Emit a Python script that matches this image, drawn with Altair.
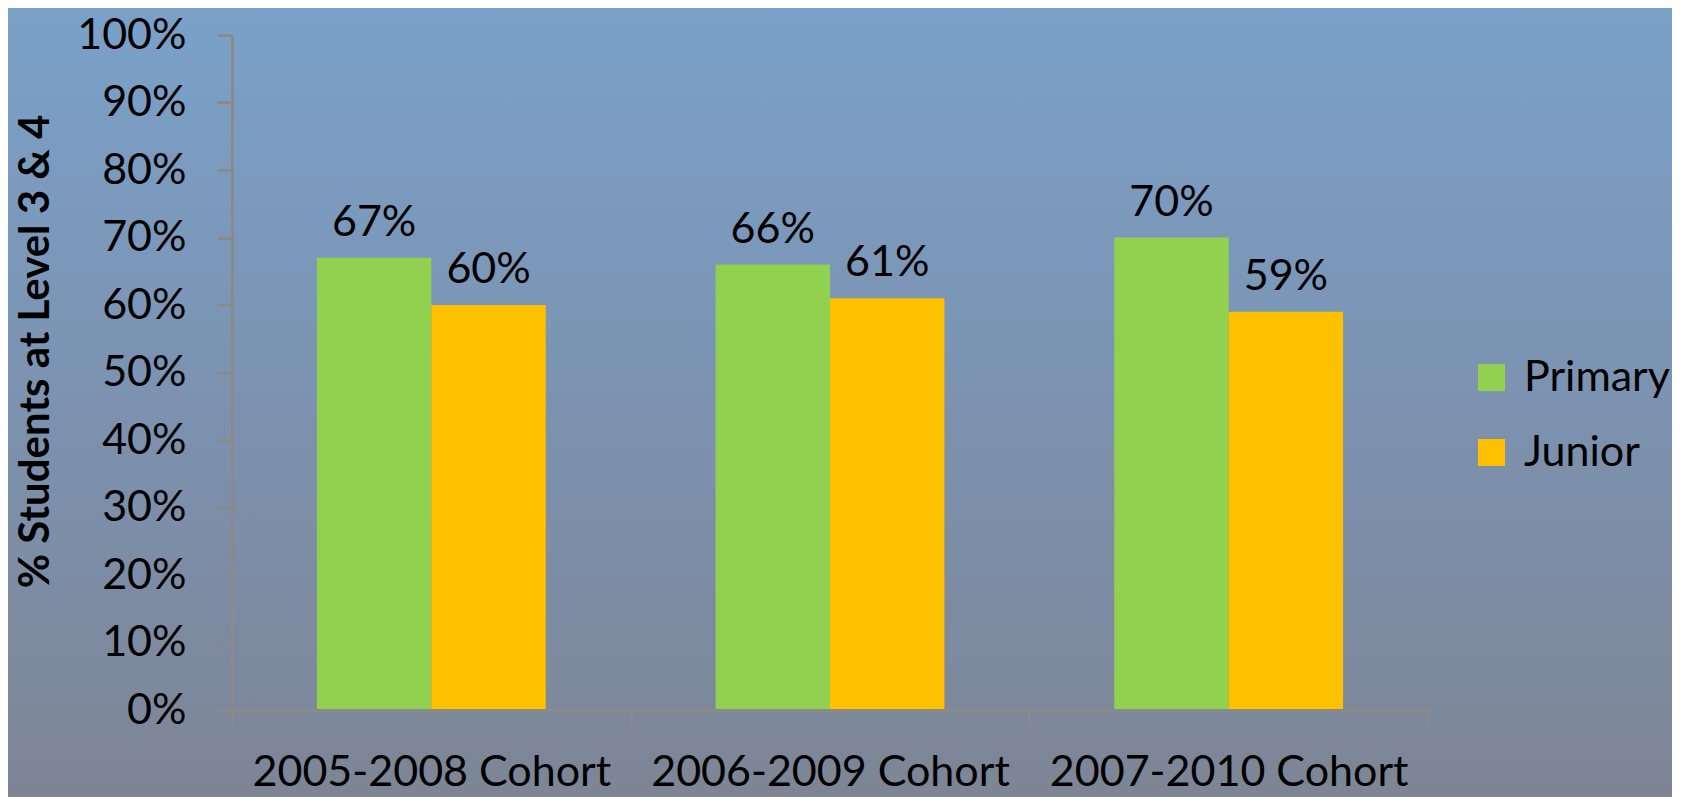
import altair as alt
import pandas as pd

cohorts = ["2005-2008 Cohort", "2006-2009 Cohort", "2007-2010 Cohort"]
series = ["Primary", "Junior"]
primary = [0.67, 0.66, 0.70]
junior = [0.60, 0.61, 0.59]
colors = ["#92d050", "#ffc000"]
y_ticks = [i / 10 for i in range(11)]

rows = []
for c, p, j in zip(cohorts, primary, junior):
    rows.append({"cohort": c, "series": "Primary", "value": p})
    rows.append({"cohort": c, "series": "Junior", "value": j})
df = pd.DataFrame(rows)

W, H = 1196, 675
PL, PT, PR, PB = 224, 27, 244, 87
FONT = "Lato"
FS = 43
AX = "#8a8a8a"

bg = alt.Chart(alt.Data(values=[{}])).mark_rect(
    color=alt.Gradient(
        gradient="linear",
        stops=[alt.GradientStop(color="#7aa1c9", offset=0),
               alt.GradientStop(color="#7c92b0", offset=0.5),
               alt.GradientStop(color="#7d8595", offset=1)],
        x1=0, x2=0, y1=0, y2=1,
    )
).encode(
    x=alt.value(-PL), x2=alt.value(W + PR),
    y=alt.value(-PT), y2=alt.value(H + PB),
)

x_enc = alt.X(
    "cohort:N", sort=cohorts, title=None,
    scale=alt.Scale(paddingInner=0, paddingOuter=0),
    axis=alt.Axis(
        labelAngle=0, tickBand="extent", labelFont=FONT, labelFontSize=FS,
        labelColor="black", labelPadding=25, labelLimit=0, tickSize=16,
        tickColor=AX, tickWidth=3, domainColor=AX, domainWidth=3, zindex=1,
    ),
)
xo_enc = alt.XOffset(
    "series:N", sort=series,
    scale=alt.Scale(paddingInner=0, paddingOuter=0.742),
)
y_enc = alt.Y(
    "value:Q", title="% Students at Level 3 & 4",
    scale=alt.Scale(domain=[0, 1]),
    axis=alt.Axis(
        values=y_ticks, format=".0%", grid=False, labelFont=FONT,
        labelFontSize=FS, labelColor="black", labelPadding=31, tickSize=15,
        tickColor=AX, tickWidth=3, domainColor=AX, domainWidth=3, zindex=1,
        titleFont=FONT, titleFontSize=42, titleFontWeight="bold",
        titleColor="black", titleAngle=270, titleAlign="center",
        titleBaseline="alphabetic", titleX=-184, titleY=316,
    ),
)

bars = alt.Chart(df).mark_bar().encode(
    x=x_enc, xOffset=xo_enc, y=y_enc,
    color=alt.Color(
        "series:N", sort=series,
        scale=alt.Scale(domain=series, range=colors),
        legend=alt.Legend(
            title=None, orient="none", legendX=1238, legendY=321,
            symbolType="square", symbolSize=729, symbolStrokeWidth=0,
            labelFont=FONT, labelFontSize=FS, labelColor="black",
            labelOffset=11, rowPadding=31,
        ),
    ),
)

labels = alt.Chart(df).mark_text(
    baseline="alphabetic", dy=-22, font=FONT, fontSize=FS, color="black"
).encode(
    x=alt.X("cohort:N", sort=cohorts),
    xOffset=alt.XOffset("series:N", sort=series),
    y="value:Q",
    text=alt.Text("value:Q", format=".0%"),
)

chart = alt.layer(bg, bars, labels).properties(
    width=W, height=H,
    autosize=alt.AutoSizeParams(type="none"),
    padding={"left": PL, "top": PT, "right": PR, "bottom": PB},
).configure_view(stroke=None)

chart.save("out.html", embed_options={"renderer": "svg", "actions": False})
